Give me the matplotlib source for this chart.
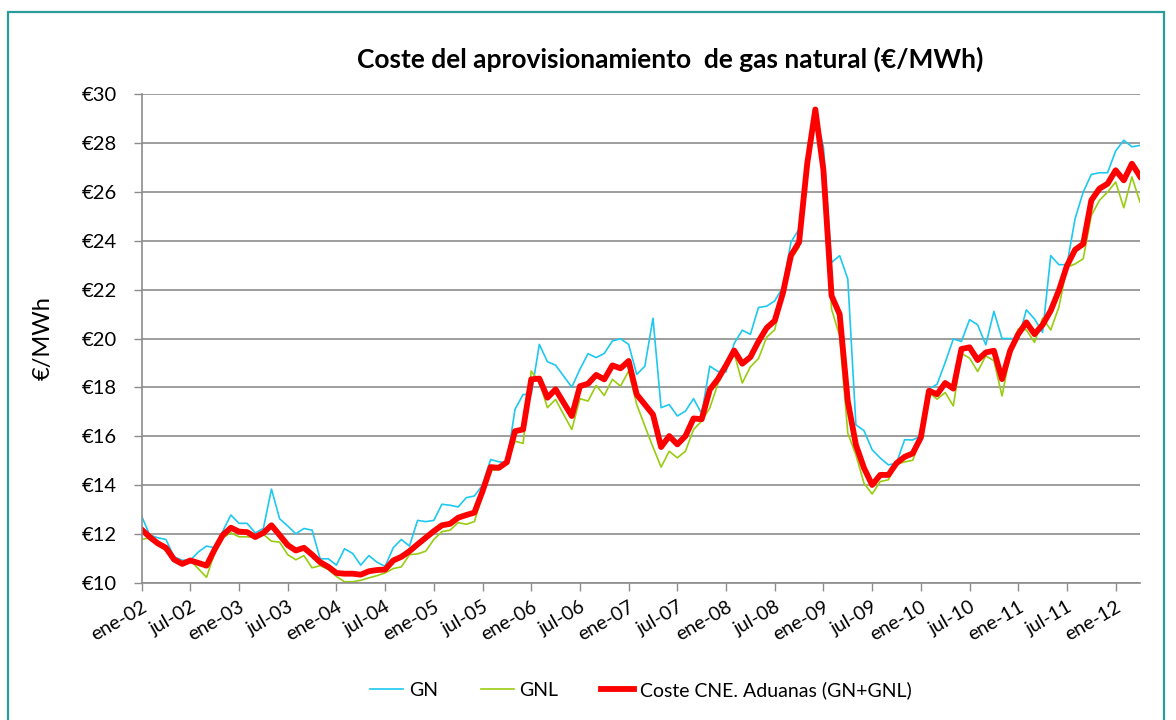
import matplotlib.pyplot as plt
from matplotlib.patches import Rectangle
import numpy as np

plt.rcParams['font.family'] = ['Lato', 'DejaVu Sans']

# monthly series, ene-02 .. abr-12
gn = [12.74, 11.96, 11.85, 11.78, 11.07, 10.93, 10.93, 11.27, 11.51, 11.44, 12.12, 12.78,
      12.44, 12.44, 12.05, 12.23, 13.84, 12.63, 12.33, 12.01, 12.23, 12.16, 10.99, 10.99,
      10.73, 11.40, 11.21, 10.73, 11.12, 10.85, 10.68, 11.44, 11.78, 11.51, 12.56, 12.51,
      12.56, 13.22, 13.18, 13.11, 13.49, 13.56, 14.00, 15.05, 14.96, 14.91, 17.10, 17.71,
      17.71, 19.76, 19.05, 18.91, 18.46, 18.01, 18.74, 19.38, 19.22, 19.39, 19.90, 19.99,
      19.76, 18.53, 18.87, 20.83, 17.17, 17.30, 16.83, 17.03, 17.54, 16.92, 18.87, 18.65,
      18.64, 19.80, 20.34, 20.17, 21.27, 21.32, 21.54, 22.10, 23.94, 24.48, 27.15, 29.20,
      27.84, 23.11, 23.39, 22.43, 16.47, 16.23, 15.45, 15.11, 14.83, 14.90, 15.86, 15.85,
      16.01, 17.93, 18.13, 19.02, 19.98, 19.88, 20.77, 20.56, 19.74, 21.11, 20.00, 20.00,
      19.98, 21.17, 20.80, 20.25, 23.39, 23.02, 23.02, 24.90, 25.99, 26.71, 26.78, 26.78,
      27.67, 28.11, 27.84, 27.90]
gnl = [11.78, 11.85, 11.58, 11.30, 11.03, 10.82, 10.93, 10.58, 10.23, 11.23, 11.85, 12.05,
       11.89, 11.89, 11.85, 11.99, 11.71, 11.67, 11.16, 10.95, 11.12, 10.62, 10.71, 10.55,
       10.27, 10.05, 10.05, 10.11, 10.21, 10.30, 10.41, 10.59, 10.66, 11.16, 11.19, 11.30,
       11.78, 12.10, 12.16, 12.47, 12.40, 12.51, 13.60, 14.60, 14.64, 14.94, 15.80, 15.71,
       18.67, 18.22, 17.17, 17.51, 16.89, 16.28, 17.54, 17.44, 18.08, 17.67, 18.33, 18.05,
       18.67, 17.30, 16.42, 15.56, 14.74, 15.39, 15.12, 15.39, 16.28, 16.62, 17.16, 18.15,
       18.85, 19.40, 18.18, 18.84, 19.18, 20.05, 20.36, 21.80, 23.25, 23.73, 27.00, 29.30,
       26.80, 21.20, 20.10, 16.13, 15.24, 14.08, 13.64, 14.15, 14.22, 14.86, 14.95, 15.02,
       15.95, 17.79, 17.52, 17.79, 17.24, 19.39, 19.20, 18.65, 19.29, 19.09, 17.65, 19.36,
       20.39, 20.35, 19.84, 20.84, 20.35, 21.28, 22.92, 23.05, 23.26, 25.03, 25.65, 25.99,
       26.40, 25.35, 26.61, 25.58]
coste = [12.19, 11.88, 11.62, 11.44, 10.96, 10.78, 10.92, 10.82, 10.71, 11.37, 11.96, 12.26,
         12.10, 12.08, 11.88, 12.05, 12.36, 11.96, 11.55, 11.33, 11.44, 11.16, 10.85, 10.66,
         10.41, 10.38, 10.38, 10.34, 10.48, 10.53, 10.55, 10.92, 11.07, 11.30, 11.58, 11.85,
         12.12, 12.36, 12.42, 12.67, 12.78, 12.88, 13.75, 14.74, 14.71, 14.94, 16.21, 16.28,
         18.33, 18.36, 17.58, 17.92, 17.37, 16.83, 18.05, 18.15, 18.51, 18.33, 18.90, 18.78,
         19.08, 17.71, 17.30, 16.89, 15.56, 16.01, 15.67, 16.01, 16.73, 16.70, 17.91, 18.34,
         18.90, 19.51, 18.97, 19.24, 19.88, 20.43, 20.73, 21.85, 23.40, 23.94, 27.15, 29.37,
         26.88, 21.75, 20.99, 17.43, 15.65, 14.70, 14.01, 14.42, 14.42, 14.90, 15.16, 15.30,
         15.95, 17.86, 17.72, 18.18, 17.95, 19.57, 19.64, 19.12, 19.43, 19.50, 18.34, 19.50,
         20.18, 20.66, 20.18, 20.56, 21.14, 21.96, 22.98, 23.63, 23.87, 25.65, 26.13, 26.33,
         26.88, 26.47, 27.15, 26.63]

months = np.arange(len(coste))
tick_pos = months[::6]
tick_labels = [('ene-' if m % 12 == 0 else 'jul-') + f'{2 + m // 12:02d}' for m in tick_pos]
y_ticks = np.arange(10, 31, 2)

fig = plt.figure(figsize=(11.76, 7.2), dpi=100)
ax = fig.add_axes([0.1204, 0.1903, 0.8490, 0.6791])

ax.plot(months, gn, color='#1ec8f0', lw=1.2, label='GN')
ax.plot(months, gnl, color='#99cc11', lw=1.2, label='GNL')
ax.plot(months, coste, color='#ff0000', lw=4.2, solid_joinstyle='round',
        label='Coste CNE. Aduanas (GN+GNL)')

ax.set_xlim(0, months[-1])
ax.set_ylim(10, 30)
ax.set_yticks(y_ticks)
ax.set_yticklabels([f'€{v}' for v in y_ticks], fontsize=14.5)
ax.set_xticks(tick_pos)
ax.set_xticklabels(tick_labels, rotation=30, ha='right', rotation_mode='anchor', fontsize=14)
ax.tick_params(axis='both', direction='out', length=6, color='#8c8c8c', width=1)
ax.tick_params(axis='y', pad=12)
ax.tick_params(axis='x', pad=5)
ax.grid(axis='y', color='#8c8c8c', lw=1.2)
ax.set_axisbelow(True)
for side in ['top', 'right']:
    ax.spines[side].set_visible(False)
for side in ['left', 'bottom']:
    ax.spines[side].set_color('#8c8c8c')
    ax.spines[side].set_linewidth(1.2)

ax.set_ylabel('€/MWh', fontsize=17, labelpad=20)
fig.text(0.570, 0.918, 'Coste del aprovisionamiento  de gas natural (€/MWh)',
         ha='center', va='center', fontsize=19, fontweight='bold')

fig.legend(loc='center', bbox_to_anchor=(0.545, 0.042), ncol=3, frameon=False,
           fontsize=14, handlelength=1.7, columnspacing=2.2, handletextpad=0.3)

fig.patches.append(Rectangle((8 / 1176, -0.05), 1156 / 1176, 1.05 - 12 / 720,
                             transform=fig.transFigure, fill=False,
                             edgecolor='#2a9d9a', lw=1.6))

fig.savefig('out.png', dpi=100)
